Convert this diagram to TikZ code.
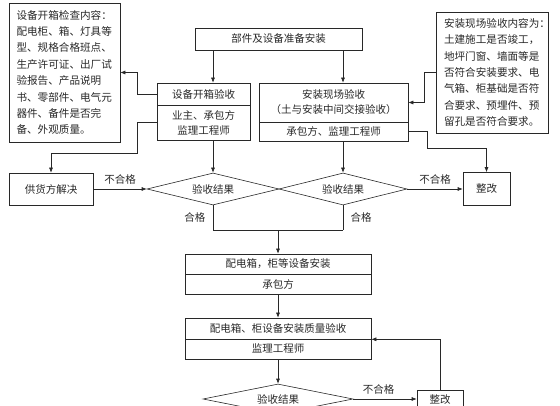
\documentclass[tikz,border=0pt]{standalone}
\usepackage{fontspec}
\setmainfont{Liberation Sans}
\newfontfamily\cjk{Noto Sans CJK SC}
\usepackage{tikz}
\usetikzlibrary{shapes.geometric, arrows.meta, positioning, calc}
\definecolor{ink}{RGB}{40, 40, 40}
\tikzset{
  procbox/.style={draw=ink, line width=0.6pt, inner sep=0pt,
    align=center, text=ink, font=\cjk\fontsize{10.5}{15}\selectfont},
  notebox/.style={draw=ink, line width=0.6pt, inner sep=0pt,
    text width=96pt, align=left, text=ink,
    font=\cjk\fontsize{10.6}{16.4}\selectfont},
  checkdiamond/.style={diamond, aspect=4, draw=ink, line width=0.6pt,
    inner sep=0pt, text=ink, font=\cjk\fontsize{10.5}{12}\selectfont},
  passlabel/.style={text=ink, font=\cjk\fontsize{10.5}{12}\selectfont},
  flowarrow/.style={-{Latex[length=5pt,width=4pt]}, line width=0.6pt, color=ink},
  flowline/.style={line width=0.6pt, color=ink}
}

\begin{document}
\begin{tikzpicture}[x=1pt, y=-1pt]

  \useasboundingbox (0,0) rectangle (560,406);
  \clip (0,0) rectangle (560,406);

  % Top row
  \node[procbox, minimum width=167pt, minimum height=22pt] (prep) at (278.5,39)
    {部件及设备准备安装};

  \node[notebox, minimum width=111pt, minimum height=139pt] (openlist) at (64.5,72.5)
    {设备开箱检查内容：\\配电柜、箱、灯具等\\型、规格合格班点、\\生产许可证、出厂试\\验报告、产品说明\\书、零部件、电气元\\器件、备件是否完\\备、外观质量。};
  \node[notebox, minimum width=112pt, minimum height=121pt] (sitelist) at (492,72.5)
    {安装现场验收内容为：\\土建施工是否竣工，\\地坪门窗、墙面等是\\否符合安装要求、电\\气箱、柜基础是否符\\合要求、预埋件、预\\留孔是否符合要求。};

  % Acceptance boxes
  \node[procbox, minimum width=93pt, minimum height=22pt] (openchk) at (203.5,94)
    {设备开箱验收};
  \node[procbox, minimum width=93pt, minimum height=35pt] (openwho) at (203.5,122.5)
    {业主、承包方\\监理工程师};
  \node[procbox, minimum width=149pt, minimum height=39pt] (sitechk) at (333.5,102.5)
    {安装现场验收\\（土与安装中间交接验收）};
  \node[procbox, minimum width=149pt, minimum height=19pt] (sitewho) at (333.5,131.5)
    {承包方、监理工程师};

  % Decisions
  \node[procbox, minimum width=84pt, minimum height=32pt] (supplier) at (51,189)
    {供货方解决};
  \node[checkdiamond, minimum width=132pt, minimum height=32pt] (res1) at (213,189)
    {验收结果};
  \node[checkdiamond, minimum width=128pt, minimum height=32pt] (res2) at (343,189)
    {验收结果};
  \node[procbox, minimum width=47pt, minimum height=33pt] (fix1) at (486.5,189)
    {整改};

  % Installation
  \node[procbox, minimum width=186pt, minimum height=20pt] (inst) at (278,264)
    {配电箱，柜等设备安装};
  \node[procbox, minimum width=186pt, minimum height=20pt] (instwho) at (278,284)
    {承包方};
  \node[procbox, minimum width=186pt, minimum height=21pt] (qual) at (278,328.5)
    {配电箱、柜设备安装质量验收};
  \node[procbox, minimum width=186pt, minimum height=20pt] (qualwho) at (278,349)
    {监理工程师};

  \node[checkdiamond, minimum width=150pt, minimum height=30pt] (res3) at (278,399)
    {验收结果};
  \node[procbox, minimum width=46pt, minimum height=20pt] (fix2) at (440,400)
    {整改};

  % Main flow
  \draw[flowarrow] (prep.south -| res1.north) -- (openchk.north -| res1.north);
  \draw[flowarrow] (prep.south -| res2.north) -- (sitechk.north -| res2.north);
  \draw[flowarrow] (openwho.south -| res1.north) -- (res1.north);
  \draw[flowarrow] (sitewho.south -| res2.north) -- (res2.north);

  % Side notes
  \draw[flowarrow] (openchk.west) -- ++(-19,0) |- (openlist.east);
  \draw[flowarrow] (sitelist.west) -- ++(-11,0) |- (sitechk.east);

  % Rejections
  \draw[flowarrow] (openwho.west) -- ++(-19,0) -- ++(0,31) -| (supplier.north);
  \draw[flowarrow] (sitewho.east) -- ++(19,0) -- ++(0,16.5) -| (fix1.north);
  \draw[flowarrow] (supplier.east) -- node[passlabel, above=1pt] {不合格} (res1.west);
  \draw[flowarrow] (res2.east) -- node[passlabel, above=1pt] {不合格} (fix1.west);

  % Passed: join and go down
  \draw[flowline] (res1.south) -- node[passlabel, left=4pt] {合格} ++(0,25) coordinate (join);
  \draw[flowline] (res2.south) -- node[passlabel, right=4pt] {合格} (res2.south |- join);
  \draw[flowline] (join) -- (res2.south |- join);
  \draw[flowarrow] (join -| inst.north) -- (inst.north);
  \draw[flowarrow] (instwho.south) -- (qual.north);
  \draw[flowarrow] (qualwho.south) -- (res3.north);

  % Final check
  \draw[flowarrow] (res3.east) -- node[passlabel, above=1pt, pos=0.4] {不合格} (res3.east -| fix2.west);
  \draw[flowarrow] (fix2.north) |- (qual.south east);

\end{tikzpicture}
\end{document}
